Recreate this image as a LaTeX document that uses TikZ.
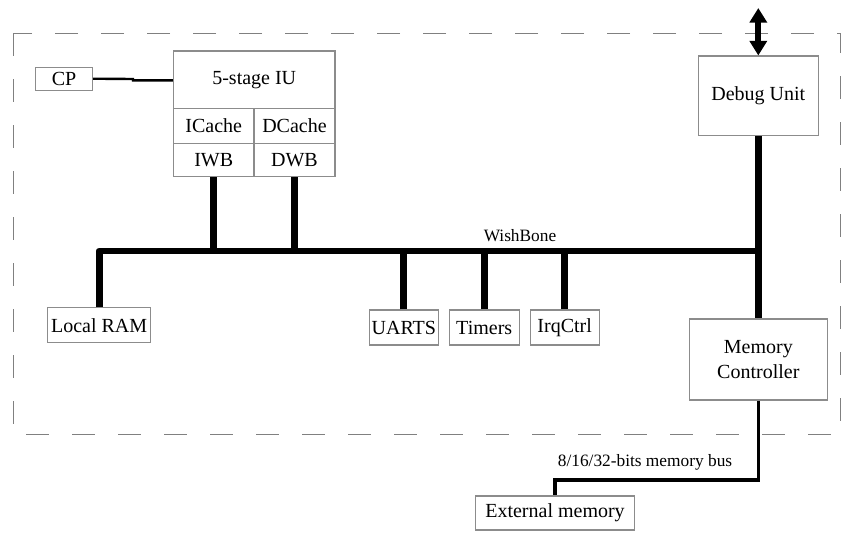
\documentclass[tikz,border=0pt]{standalone}
\usepackage{fontspec}
\setmainfont{Liberation Serif}
\usetikzlibrary{arrows.meta}
\begin{document}
\begin{tikzpicture}[x=0.75pt,y=-0.75pt,
  box/.style={draw=black!45, line width=0.8pt, fill=white, inner sep=0pt,
    font=\fontsize{15}{18.5}\selectfont, align=center},
  sz/.style 2 args={minimum width=#1*0.75pt, minimum height=#2*0.75pt},
  bus/.style={line width=5.2pt, line join=round},
  cpline/.style={line width=1.8pt},
  membus/.style={line width=2.3pt, line join=miter},
  lbl/.style={font=\fontsize{13}{15}\selectfont, inner sep=0pt},
  dbl/.style={line width=4.5pt,
    {Triangle[width=12.75pt,length=11pt]}-{Triangle[width=12.75pt,length=11pt]}}
]
\useasboundingbox (0,0) rectangle (852,537);
\draw[draw=black!50, line width=0.75pt, dash pattern=on 17pt off 17.5pt]
  (13,33) rectangle (840.5,434);

% nodes
\node[box, sz={57}{23}] (cp) at (64,78.7) {CP};
\node[box, sz={161.5}{57.3}] (iu) at (254.25,79.65) {5-stage IU};
\node[box, sz={80.5}{35}] (icache) at (213.75,125.8) {ICache};
\node[box, sz={81}{35}] (dcache) at (294.5,125.8) {DCache};
\node[box, sz={80.5}{33.4}] (iwb) at (213.75,160) {IWB};
\node[box, sz={81}{33.4}] (dwb) at (294.5,160) {DWB};
\node[box, sz={120}{79.7}] (debug) at (758.3,95.85) {Debug Unit};
\node[box, sz={103}{35}] (lram) at (99.1,325.2) {Local RAM};
\node[box, sz={69}{35}] (uarts) at (403.8,327.5) {UARTS};
\node[box, sz={69.7}{35}] (timers) at (484.2,327.5) {Timers};
\node[box, sz={69.3}{35}] (irq) at (564.7,327.5) {IrqCtrl};
\node[box, sz={138}{81}] (memctl) at (758.3,359.5) {Memory\\Controller};
\node[box, sz={158.6}{34}] (extmem) at (555,513) {External memory};

\coordinate (busR) at (758.3,251);
\coordinate (dbgtop) at (758.3,8);
\coordinate (cpj1) at (133,79);
\coordinate (cpj2) at (133,80.3);
\coordinate (mbend) at (555,480);

% CP link
\draw[cpline] (cp.east) -- (cpj1) -- (cpj2) -- (cpj2 -| iu.west);

% WishBone bus
\draw[bus] (lram.north) |- (busR);
\draw[bus] (debug.south) -- (memctl.north);
\draw[bus] (iwb.south) -- (iwb.south |- busR);
\draw[bus] (dwb.south) -- (dwb.south |- busR);
\draw[bus] (uarts.north) -- (uarts.north |- busR);
\draw[bus] (timers.north) -- (timers.north |- busR);
\draw[bus] (irq.north) -- (irq.north |- busR);
\node[lbl] (wb) at (520,235.5) {WishBone};

% debug port
\draw[dbl] (dbgtop) -- (debug.north);

% external memory bus
\draw[membus] (memctl.south) |- (mbend) -- (extmem.north);
\node[lbl] (mbl) at (645,462) {8/16/32-bits memory bus};
\end{tikzpicture}
\end{document}
